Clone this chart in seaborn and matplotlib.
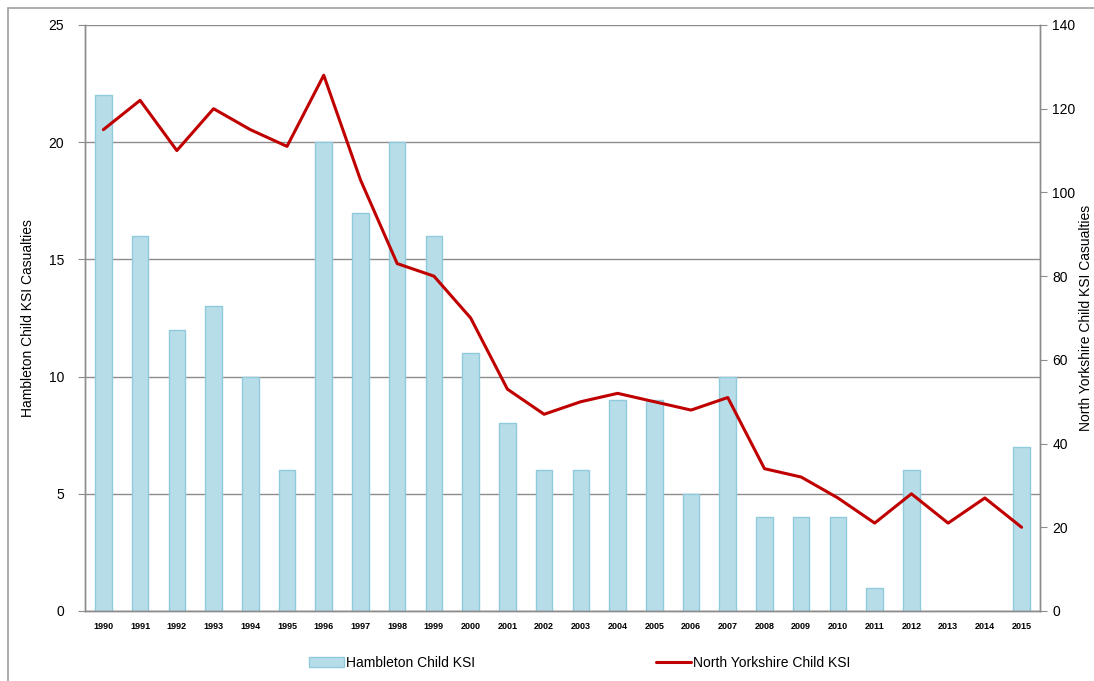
import numpy as np
import pandas as pd
import seaborn as sns
import matplotlib.pyplot as plt
from matplotlib.patches import Rectangle
from matplotlib.lines import Line2D
from matplotlib.patches import Patch

years = [str(y) for y in range(1990, 2016)]
hambleton = [22, 16, 12, 13, 10, 6, 20, 17, 20, 16, 11, 8, 6, 6, 9, 9, 5, 10,
             4, 4, 4, 1, 6, 0, 0, 7]
north_yorks = [115, 122, 110, 120, 115, 111, 128, 103, 83, 80, 70, 53, 47, 50,
               52, 50, 48, 51, 34, 32, 27, 21, 28, 21, 27, 20]

BAR_COLOR = "#B7DDE8"
BAR_EDGE = "#8FCBDC"
LINE_COLOR = "#C00000"
GRID = "#8C8C8C"

sns.set_style("white")
plt.rcParams["font.family"] = ["Liberation Sans", "DejaVu Sans"]
plt.rcParams["text.color"] = "black"
plt.rcParams["axes.labelcolor"] = "black"

df = pd.DataFrame({"year": years, "hambleton": hambleton, "ny": north_yorks})
df["pos"] = np.arange(len(df))

fig = plt.figure(figsize=(10.94, 6.81), dpi=100)
ax = fig.add_axes([0.0777, 0.1028, 0.8729, 0.8605])

sns.barplot(data=df, x="year", y="hambleton", color=BAR_COLOR, width=0.45,
            edgecolor=BAR_EDGE, linewidth=1, saturation=1, ax=ax, zorder=2)

ax.set_ylim(0, 25)
ax.set_yticks([0, 5, 10, 15, 20, 25])
ax.set_xlim(-0.5, len(years) - 0.5)
ax.yaxis.grid(True, color=GRID, linewidth=1)
ax.set_axisbelow(True)
ax.set_xlabel("")
ax.set_ylabel("Hambleton Child KSI Casualties", fontsize=10, labelpad=10)
ax.tick_params(axis="y", labelsize=10, length=5, color=GRID, pad=10,
               labelcolor="black")
ax.tick_params(axis="x", which="major", length=0, labelsize=6.5, pad=8,
               labelcolor="black")
ax.set_xticks(np.arange(-0.5, len(years)), minor=True)
ax.tick_params(axis="x", which="minor", length=4, color=GRID)
for lab in ax.get_xticklabels():
    lab.set_fontweight("bold")

ax2 = ax.twinx()
sns.lineplot(data=df, x="pos", y="ny", color=LINE_COLOR, linewidth=2.2, ax=ax2)
ax2.set_ylim(0, 140)
ax2.set_yticks(range(0, 141, 20))
ax2.set_ylabel("North Yorkshire Child KSI Casualties", fontsize=10)
ax2.yaxis.set_label_coords(1.041, 0.5)
ax2.tick_params(axis="y", labelsize=10, length=5, color=GRID, pad=4,
                labelcolor="black")
ax2.set_xlim(-0.5, len(years) - 0.5)

for a in (ax, ax2):
    for s in a.spines.values():
        s.set_color(GRID)
        s.set_linewidth(1)
    a.spines["top"].set_visible(False)

fig.add_artist(Rectangle((8 / 1094, -0.05), 1.1, (681 - 8) / 681 + 0.05,
                         transform=fig.transFigure, fill=False,
                         edgecolor="#A0A0A0", linewidth=1.2))

handles = [Patch(facecolor=BAR_COLOR, edgecolor=BAR_EDGE),
           Line2D([], [], color=LINE_COLOR, linewidth=2.2)]
fig.legend(handles, ["Hambleton Child KSI", "North Yorkshire Child KSI"],
           loc="center", bbox_to_anchor=(0.53, 0.027), ncol=2, frameon=False,
           fontsize=10, columnspacing=13, handlelength=2.5, handletextpad=0.2)

fig.savefig("out.png", dpi=100)
